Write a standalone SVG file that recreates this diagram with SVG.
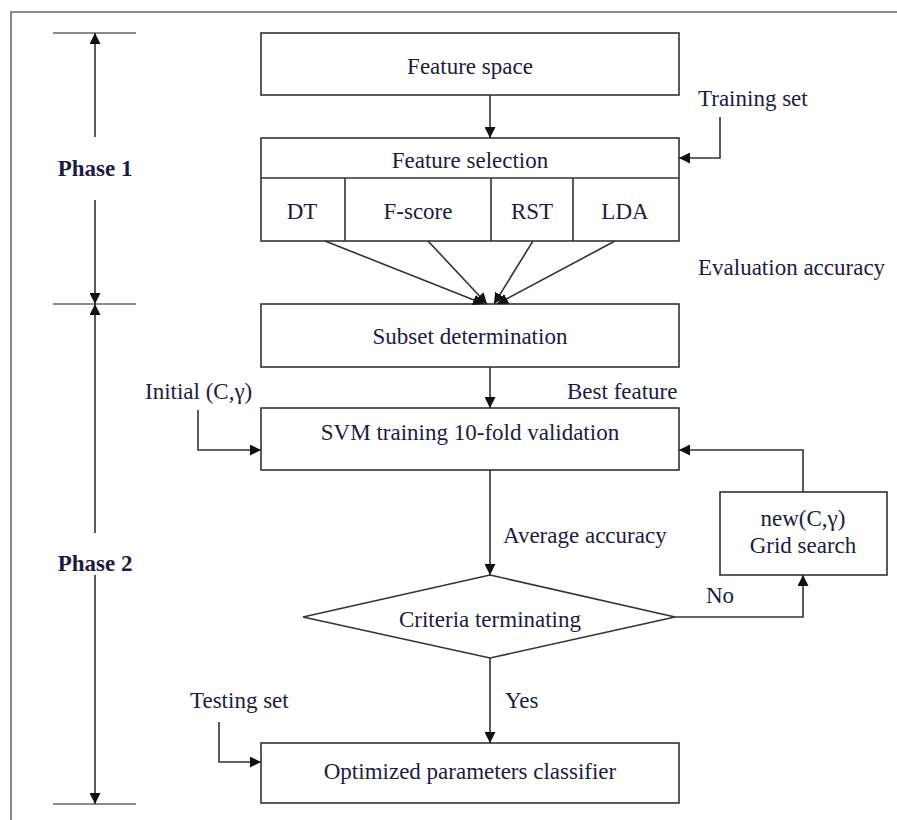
<svg xmlns="http://www.w3.org/2000/svg" width="897" height="820" viewBox="0 0 897 820">
<defs>
<marker id="ah" viewBox="0 0 10 10" refX="10" refY="5" markerWidth="11" markerHeight="11" markerUnits="userSpaceOnUse" orient="auto">
<path d="M0,0 L10,5 L0,10 z" fill="#111"/>
</marker>
</defs>
<style>
.box{fill:#fff;stroke:#333;stroke-width:1.6}
.ln{fill:none;stroke:#333;stroke-width:1.6}
.tk{fill:none;stroke:#666;stroke-width:1.6}
.t{font-family:"Liberation Serif","Times New Roman",serif;font-size:23px;fill:#1c1c40;text-anchor:middle;dominant-baseline:central}
.tl{font-family:"Liberation Serif","Times New Roman",serif;font-size:23px;fill:#1c1c40;dominant-baseline:central}
.b{font-weight:bold}
</style>
<rect width="897" height="820" fill="#fff"/>
<path class="tk" d="M11,820 V12 H897"/>
<g id="phases">
<path class="tk" d="M53,33 H136 M53,304 H136 M53,804 H136"/>
<path class="ln" d="M95,137 V33" marker-end="url(#ah)"/>
<path class="ln" d="M95,200 V304" marker-end="url(#ah)"/>
<text class="t b" x="95" y="168">Phase 1</text>
<path class="ln" d="M95,533 V304" marker-end="url(#ah)"/>
<path class="ln" d="M95,575 V804" marker-end="url(#ah)"/>
<text class="t b" x="95" y="563">Phase 2</text>
</g>
<g id="feature-space">
<rect class="box" x="261" y="33" width="418" height="62"/>
<text class="t" x="470" y="66">Feature space</text>
</g>
<g id="feature-selection">
<rect class="box" x="261" y="138" width="418" height="103"/>
<path class="ln" d="M261,178 H679 M345,178 V241 M491,178 V241 M573,178 V241"/>
<text class="t" x="470" y="160">Feature selection</text>
<text class="t" x="302" y="211">DT</text>
<text class="t" x="418" y="211">F-score</text>
<text class="t" x="532" y="211">RST</text>
<text class="t" x="625" y="211">LDA</text>
</g>
<g id="subset">
<rect class="box" x="261" y="304" width="418" height="63"/>
<text class="t" x="470" y="336">Subset determination</text>
</g>
<g id="svm">
<rect class="box" x="261" y="408" width="418" height="62"/>
<text class="t" x="470" y="432">SVM training 10-fold validation</text>
</g>
<g id="criteria">
<polygon class="box" points="490,575 675,617 490,658 303,617"/>
<text class="t" x="490" y="619">Criteria terminating</text>
</g>
<g id="grid">
<rect class="box" x="720" y="492" width="167" height="83"/>
<text class="t" x="803" y="518">new(C,γ)</text>
<text class="t" x="803" y="545">Grid search</text>
</g>
<g id="optimized">
<rect class="box" x="261" y="743" width="418" height="60"/>
<text class="t" x="470" y="771">Optimized parameters classifier</text>
</g>
<g id="labels">
<text class="tl" x="698" y="98">Training set</text>
<text class="tl" x="698" y="267">Evaluation accuracy</text>
<text class="tl" x="567" y="391">Best feature</text>
<text class="tl" x="145" y="391">Initial (C,γ)</text>
<text class="tl" x="503" y="535">Average accuracy</text>
<text class="tl" x="706" y="595">No</text>
<text class="tl" x="505" y="700">Yes</text>
<text class="tl" x="190" y="700">Testing set</text>
</g>
<g id="connectors">
<path class="ln" d="M490,95 V138" marker-end="url(#ah)"/>
<path class="ln" d="M720,117 V158 H679" marker-end="url(#ah)"/>
<path class="ln" d="M325,241 L484,304" marker-end="url(#ah)"/>
<path class="ln" d="M428,241 L487,304" marker-end="url(#ah)"/>
<path class="ln" d="M533,241 L494,304" marker-end="url(#ah)"/>
<path class="ln" d="M615,241 L497,304" marker-end="url(#ah)"/>
<path class="ln" d="M490,367 V408" marker-end="url(#ah)"/>
<path class="ln" d="M198,410 V450 H261" marker-end="url(#ah)"/>
<path class="ln" d="M490,470 V575" marker-end="url(#ah)"/>
<path class="ln" d="M675,617 H803 V575" marker-end="url(#ah)"/>
<path class="ln" d="M803,492 V450 H679" marker-end="url(#ah)"/>
<path class="ln" d="M490,658 V743" marker-end="url(#ah)"/>
<path class="ln" d="M219,722 V762 H261" marker-end="url(#ah)"/>
</g>
</svg>
